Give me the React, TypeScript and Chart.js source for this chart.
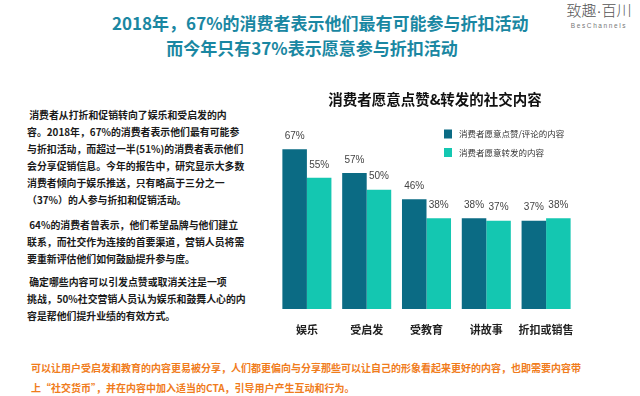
import React, { useEffect, useRef } from "react";
import { Chart, registerables } from "chart.js";

Chart.register(...registerables);

const categories = ["娱乐", "受启发", "受教育", "讲故事", "折扣或销售"];
const likeCommentValues = [67, 57, 46, 38, 37];
const shareValues = [55, 50, 38, 37, 38];
const seriesNames = ["消费者愿意点赞/评论的内容", "消费者愿意转发的内容"];
const chartTitle = "消费者愿意点赞&转发的社交内容";

const headingLines = [
  "2018年，67%的消费者表示他们最有可能参与折扣活动",
  "而今年只有37%表示愿意参与折扣活动",
];
const paragraph1 = [
  " 消费者从打折和促销转向了娱乐和受启发的内",
  "容。2018年，67%的消费者表示他们最有可能参",
  "与折扣活动，而超过一半(51%)的消费者表示他们",
  "会分享促销信息。今年的报告中，研究显示大多数",
  "消费者倾向于娱乐推送，只有略高于三分之一",
  "（37%）的人参与折扣和促销活动。",
];
const paragraph2 = [
  " 64%的消费者曾表示，他们希望品牌与他们建立",
  "联系，而社交作为连接的首要渠道，营销人员将需",
  "要重新评估他们如何鼓励提升参与度。",
];
const paragraph3 = [
  " 确定哪些内容可以引发点赞或取消关注是一项",
  "挑战，50%社交营销人员认为娱乐和鼓舞人心的内",
  "容是帮他们提升业绩的有效方式。",
];
const footerLines = [
  "可以让用户受启发和教育的内容更易被分享，人们都更偏向与分享那些可以让自己的形象看起来更好的内容，也即需要内容带",
  "上“社交货币”，并在内容中加入适当的CTA，引导用户产生互动和行为。",
];

const DARK = "#0b6b84";
const TEAL = "#14c7b1";
const CJK = '"Noto Sans CJK SC", "Noto Sans", sans-serif';
const LATIN = '"Liberation Sans", "Noto Sans CJK SC", sans-serif';

const overlayPlugin = {
  id: "overlay",
  afterDatasetsDraw(chart: any) {
    const ctx = chart.ctx;
    ctx.save();
    // data labels
    ctx.font = `10px ${LATIN}`;
    ctx.fillStyle = "#444";
    ctx.textAlign = "center";
    ctx.textBaseline = "middle";
    chart.data.datasets.forEach((ds: any, i: number) => {
      const meta = chart.getDatasetMeta(i);
      meta.data.forEach((bar: any, j: number) => {
        ctx.fillText(ds.data[j] + "%", bar.x, bar.y - 13);
      });
    });
    // title
    ctx.font = `bold 14.5px ${CJK}`;
    ctx.fillStyle = "#111";
    ctx.fillText(chartTitle, 165, 19);
    // legend
    ctx.font = `8.5px ${CJK}`;
    ctx.textAlign = "left";
    chart.data.datasets.forEach((ds: any, i: number) => {
      const y = 54 + i * 18.5;
      ctx.fillStyle = ds.backgroundColor;
      ctx.fillRect(174, y - 4.5, 8, 9);
      ctx.fillStyle = "#333";
      ctx.fillText(ds.label, 189, y);
    });
    ctx.restore();
  },
};

function BarChart() {
  const ref = useRef<HTMLCanvasElement>(null);
  useEffect(() => {
    if (!ref.current) return;
    const chart = new Chart(ref.current, {
      type: "bar",
      data: {
        labels: categories,
        datasets: [
          { label: seriesNames[0], data: likeCommentValues, backgroundColor: DARK, categoryPercentage: 0.82, barPercentage: 1 },
          { label: seriesNames[1], data: shareValues, backgroundColor: TEAL, categoryPercentage: 0.82, barPercentage: 1 },
        ],
      },
      options: {
        animation: false,
        responsive: false,
        maintainAspectRatio: false,
        layout: { padding: { top: 62, left: 7, right: 64, bottom: 0 } },
        plugins: { legend: { display: false }, title: { display: false }, tooltip: { enabled: false } },
        scales: {
          x: {
            grid: { display: false, drawTicks: false },
            border: { display: false },
            ticks: { padding: 14, color: "#222", maxRotation: 0, minRotation: 0, autoSkip: false, font: { family: CJK, size: 11, weight: "bold" } },
            afterFit: (s: any) => { s.height = 31; },
          },
          y: { display: false, min: 0, max: 70 },
        },
      },
      plugins: [overlayPlugin],
    });
    return () => chart.destroy();
  }, []);
  return <canvas ref={ref} width={370} height={260} style={{ position: "absolute", left: 270, top: 80, width: 370, height: 260 }} />;
}

function Para({ lines, top }: { lines: string[]; top: number }) {
  return (
    <div style={{ position: "absolute", left: 27, top, fontFamily: CJK, fontSize: 9.9, lineHeight: "17px", color: "#1a1a1a", fontWeight: 600, whiteSpace: "pre" }}>
      {lines.map((l, i) => <div key={i}>{l}</div>)}
    </div>
  );
}

export default function App() {
  return (
    <div style={{ position: "fixed", left: 0, top: 0, width: 640, height: 396, background: "#fff", overflow: "hidden" }}>
      <div style={{ position: "absolute", left: 112, top: 10, width: 400, textAlign: "center", fontFamily: CJK, fontWeight: "bold", fontSize: 17, lineHeight: "25px", color: "#1a87a2", whiteSpace: "nowrap" }}>
        {headingLines.map((l, i) => <div key={i}>{l}</div>)}
      </div>
      <div style={{ position: "absolute", left: 560, top: 1, width: 78, textAlign: "center", fontFamily: CJK, color: "#555" }}>
        <div style={{ fontSize: 15, lineHeight: "18px", fontWeight: 300, whiteSpace: "nowrap" }}>致趣<span style={{ fontFamily: LATIN }}>·</span>百川</div>
        <div style={{ fontSize: 6.5, lineHeight: "12px", letterSpacing: "1.6px", color: "#777", fontFamily: LATIN }}>BesChannels</div>
      </div>
      <Para lines={paragraph1} top={106.5} />
      <Para lines={paragraph2} top={216.5} />
      <Para lines={paragraph3} top={274} />
      <div style={{ position: "absolute", left: 31, top: 358, fontFamily: CJK, fontSize: 10, lineHeight: "20px", color: "#f07c1c", fontWeight: 600, whiteSpace: "pre" }}>
        {footerLines.map((l, i) => <div key={i}>{l}</div>)}
      </div>
      <BarChart />
    </div>
  );
}
